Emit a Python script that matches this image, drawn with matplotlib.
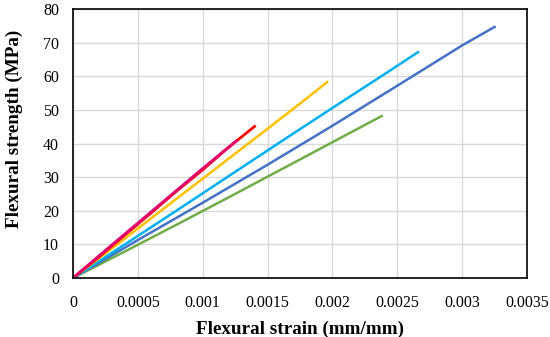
import matplotlib
matplotlib.use('Agg')
import matplotlib.pyplot as plt
from matplotlib.ticker import FixedLocator

# strain (mm/mm) and flexural strength (MPa)
red_x = [0, 0.0002, 0.0004, 0.0006, 0.0008, 0.001, 0.0012, 0.0014]
red_y = [0, 6.3, 12.8, 19.3, 25.9, 32.2, 38.9, 45.1]
mag_x = [0, 0.0002, 0.0004, 0.0006, 0.0008, 0.001, 0.00126]
mag_y = [0, 6.6, 13.1, 19.6, 26.1, 32.6, 40.8]
yel_x = [0, 0.0003, 0.0006, 0.0009, 0.0012, 0.0015, 0.0018, 0.00196]
yel_y = [0, 8.8, 17.7, 26.6, 35.5, 44.4, 53.4, 58.3]
cya_x = [0, 0.0004, 0.0008, 0.0012, 0.0016, 0.002, 0.0024, 0.00266]
cya_y = [0, 10.0, 20.1, 30.3, 40.5, 50.6, 60.6, 67.2]
blu_x = [0, 0.0005, 0.001, 0.0015, 0.002, 0.0025, 0.003, 0.00325]
blu_y = [0, 11.3, 22.4, 33.7, 45.3, 57.2, 69.2, 74.7]
grn_x = [0, 0.0004, 0.0008, 0.0012, 0.0016, 0.002, 0.00238]
grn_y = [0, 7.9, 15.9, 24.0, 32.2, 40.4, 48.2]

x_ticks = [0, 0.0005, 0.001, 0.0015, 0.002, 0.0025, 0.003, 0.0035]
x_labels = ['0', '0.0005', '0.001', '0.0015', '0.002', '0.0025', '0.003', '0.0035']
y_ticks = [0, 10, 20, 30, 40, 50, 60, 70, 80]

plt.rcParams['font.family'] = ['Liberation Serif', 'DejaVu Serif']

fig = plt.figure(figsize=(5.5, 3.37), dpi=100)
ax = fig.add_axes([0.1327, 0.175, 0.8255, 0.798])

ax.plot(grn_x, grn_y, color='#70AD47', lw=1.8)
ax.plot(blu_x, blu_y, color='#4472C4', lw=1.8)
ax.plot(cya_x, cya_y, color='#00B0F0', lw=1.8)
ax.plot(yel_x, yel_y, color='#FFC000', lw=1.8)
ax.plot(red_x, red_y, color='#FF0000', lw=2.0)
ax.plot(mag_x, mag_y, color='#E0006E', lw=2.0)

ax.set_xlim(0, 0.0035)
ax.set_ylim(0, 80)
ax.xaxis.set_major_locator(FixedLocator(x_ticks))
ax.set_xticklabels(x_labels)
ax.set_yticks(y_ticks)
ax.grid(True, color='#D9D9D9', lw=1)
ax.set_axisbelow(True)
ax.tick_params(length=0, labelsize=11.5)
ax.tick_params(axis='x', pad=12)
ax.tick_params(axis='y', pad=10)
for s in ax.spines.values():
    s.set_color('black')
    s.set_linewidth(1.2)

ax.set_xlabel('Flexural strain (mm/mm)', fontsize=13.8, fontweight='bold', labelpad=7)
ax.set_ylabel('Flexural strength (MPa)', fontsize=13.8, fontweight='bold')
ax.yaxis.set_label_coords(-0.111, 0.554)

fig.savefig('out.png', dpi=100)
